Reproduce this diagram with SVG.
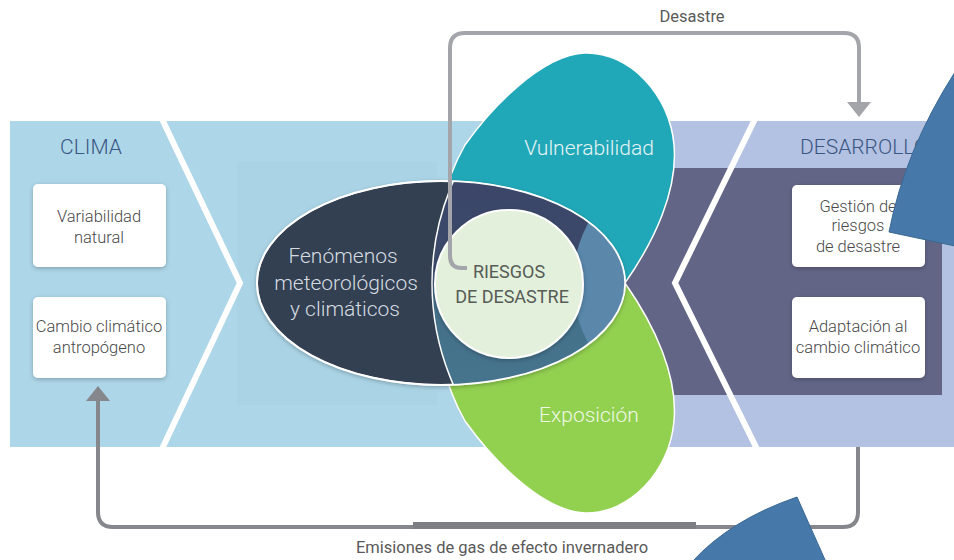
<svg xmlns="http://www.w3.org/2000/svg" width="954" height="560" viewBox="0 0 954 560">
<defs>
<style>
.box{fill:#ffffff;filter:url(#sh);}
.boxt{font-family:Roboto,"Liberation Sans",sans-serif;font-weight:300;font-size:16.5px;fill:#4a4a4a;text-anchor:middle;}
.head{font-family:Roboto,"Liberation Sans",sans-serif;font-weight:300;font-size:21px;fill:#3a5682;}
.big{font-family:Roboto,"Liberation Sans",sans-serif;font-weight:300;font-size:21px;text-anchor:middle;}
.sep{fill:none;stroke:#ffffff;stroke-width:6;stroke-linejoin:miter;}
.conn{fill:none;stroke-width:4;stroke-linejoin:round;}
.lbl{font-family:Roboto,"Liberation Sans",sans-serif;font-weight:400;font-size:16.5px;fill:#5a5a5a;text-anchor:middle;}
.occ{fill:#4679a9;stroke:#3b6894;stroke-width:1;}
.petal{stroke:#ffffff;stroke-width:1.5;}
</style>
<filter id="sh" x="-15%" y="-15%" width="130%" height="140%"><feDropShadow dx="0" dy="1.5" stdDeviation="2" flood-color="#000000" flood-opacity="0.25"/></filter>
<clipPath id="fenClip"><ellipse cx="441" cy="283" rx="184" ry="102"/></clipPath>
<linearGradient id="bandGrad" x1="10" y1="0" x2="954" y2="0" gradientUnits="userSpaceOnUse">
<stop offset="0" stop-color="#add6e8"/>
<stop offset="0.61" stop-color="#add6e8"/>
<stop offset="0.70" stop-color="#b3c1e3"/>
<stop offset="1" stop-color="#b3c1e3"/>
</linearGradient>
<linearGradient id="innerGrad" x1="0" y1="182" x2="0" y2="385" gradientUnits="userSpaceOnUse">
<stop offset="0" stop-color="#3b4668"/>
<stop offset="0.42" stop-color="#3c4a6b"/>
<stop offset="0.62" stop-color="#44708a"/>
<stop offset="1" stop-color="#46748d"/>
</linearGradient>
<marker id="arrL" viewBox="0 -12 15 24" refX="0" refY="0" markerWidth="15" markerHeight="24" markerUnits="userSpaceOnUse" orient="auto"><path d="M0,-12 L15,0 L0,12 Z" fill="#a3a5aa"/></marker>
<marker id="arrD" viewBox="0 -12 15 24" refX="0" refY="0" markerWidth="15" markerHeight="24" markerUnits="userSpaceOnUse" orient="auto"><path d="M0,-12 L15,0 L0,12 Z" fill="#85878c"/></marker>
</defs>

<g id="background">
<rect x="10" y="121" width="944" height="326" fill="url(#bandGrad)"/>
<rect x="237" y="162" width="200" height="243" fill="#a8d1e4" opacity="0.5"/>
<rect x="590" y="168" width="352" height="227" fill="#636587"/>
<polyline class="sep" points="162,119 240,283 162,449"/>
<polyline class="sep" points="755,119 675,283 757,449"/>
</g>

<g id="node-clima">
<text class="head" x="91" y="154" text-anchor="middle">CLIMA</text>
</g>
<g id="node-variabilidad">
<rect class="box" x="33" y="184" width="133" height="83" rx="5"/>
<text class="boxt" x="99" y="222">Variabilidad</text>
<text class="boxt" x="99" y="243">natural</text>
</g>
<g id="node-cambio">
<rect class="box" x="33" y="297" width="133" height="81" rx="5"/>
<text class="boxt" x="99" y="332">Cambio climático</text>
<text class="boxt" x="99" y="353">antropógeno</text>
</g>

<g id="node-desarrollo">
<text class="head" x="800" y="154">DESARROLLO</text>
</g>
<g id="node-gestion">
<rect class="box" x="792" y="185" width="133" height="82" rx="5"/>
<text class="boxt" x="858" y="212">Gestión de</text>
<text class="boxt" x="858" y="231">riesgos</text>
<text class="boxt" x="858" y="252">de desastre</text>
</g>
<g id="node-adaptacion">
<rect class="box" x="792" y="297" width="133" height="81" rx="5"/>
<text class="boxt" x="858" y="332">Adaptación al</text>
<text class="boxt" x="858" y="353">cambio climático</text>
</g>

<g id="node-vulnerabilidad">
<path class="petal" fill="#21a8b8" d="M625 283 C655 240 678 190 674 145 C670 95 630 52 585 53 C540 55 490 110 465 145 C445 180 432 230 432 283 Z"/>
<text class="big" x="589" y="155" fill="#e6f4f6">Vulnerabilidad</text>
</g>
<g id="node-exposicion">
<path class="petal" fill="#92d050" d="M625 283 C655 326 678 376 674 421 C670 471 630 514 585 513 C540 511 490 456 465 421 C445 386 432 336 432 283 Z"/>
<text class="big" x="589" y="422" fill="#eef8e4">Exposición</text>
</g>

<g id="node-fenomenos">
<ellipse cx="441" cy="283" rx="184" ry="102" fill="#333f51" stroke="#ffffff" stroke-width="2" filter="url(#sh)"/>
<g clip-path="url(#fenClip)">
<circle cx="685" cy="283" r="253" fill="url(#innerGrad)" stroke="#ffffff" stroke-width="1.5"/>
<circle cx="700" cy="283" r="127" fill="#5a87aa"/>
</g>
<ellipse cx="441" cy="283" rx="184" ry="102" fill="none" stroke="#ffffff" stroke-width="1.5"/>
<text class="big" x="343" y="263" fill="#d6dbe1">Fenómenos</text>
<text class="big" x="346" y="290" fill="#d6dbe1">meteorológicos</text>
<text class="big" x="345" y="316" fill="#d6dbe1">y climáticos</text>
</g>

<g id="node-riesgos">
<circle cx="509" cy="284" r="74" fill="#e3f0db" stroke="#ffffff" stroke-width="2" filter="url(#sh)"/>
<text x="509" y="278" font-family="Roboto, 'Liberation Sans', sans-serif" font-size="18" fill="#575c57" text-anchor="middle">RIESGOS</text>
<text x="512" y="303" font-family="Roboto, 'Liberation Sans', sans-serif" font-size="18" fill="#575c57" text-anchor="middle">DE DESASTRE</text>
</g>

<g id="connectors">
<path class="conn" stroke="#a3a5aa" marker-end="url(#arrL)" d="M467 268 L462 268 Q450 268 450 256 L450 48 Q450 33 465 33 L844 33 Q859 33 859 48 L859 102"/>
<path class="conn" stroke="#85878c" marker-end="url(#arrD)" d="M858 447 L858 512 Q858 527 843 527 L113 527 Q98 527 98 512 L98 401"/>
<rect x="413" y="522" width="283" height="7" fill="#7d7f84"/>
<text class="lbl" x="692" y="22">Desastre</text>
<text class="lbl" x="502" y="553">Emisiones de gas de efecto invernadero</text>
</g>

<g id="occluders">
<path class="occ" d="M955 72 Q905 150 889 232 L955 246 Z"/>
<path class="occ" d="M797 497 Q730 520 692 562 L826 562 Z"/>
</g>
</svg>
